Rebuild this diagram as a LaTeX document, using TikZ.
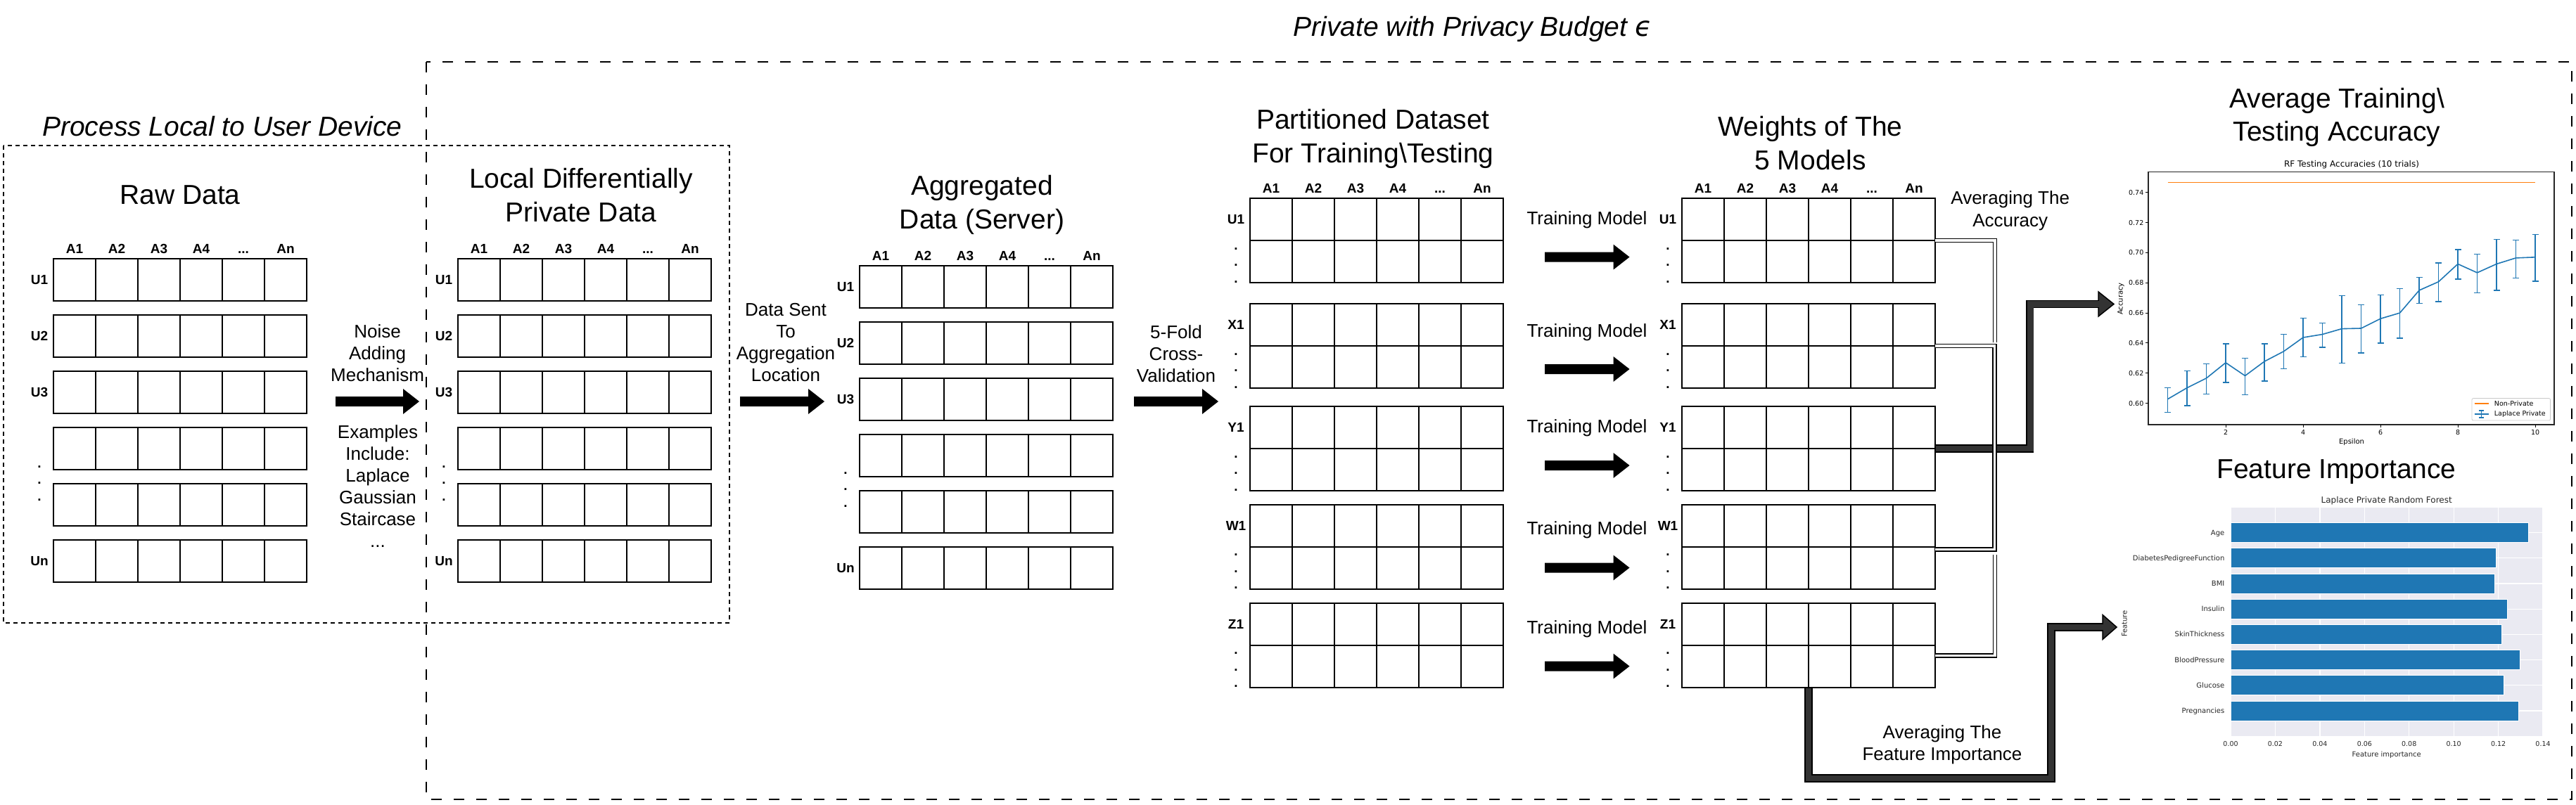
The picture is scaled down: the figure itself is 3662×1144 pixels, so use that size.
\documentclass[tikz,border=0pt]{standalone}
\usepackage{fontspec}
\setmainfont{Liberation Sans}
\newfontfamily\plotfont{DejaVu Sans}
\usetikzlibrary{calc}

\definecolor{mplblue}{HTML}{1F77B4}
\definecolor{mplorange}{HTML}{FF7F0E}
\definecolor{sbback}{HTML}{EAEAF2}
\definecolor{flexgray}{HTML}{333333}
\definecolor{axisgray}{HTML}{262626}

\tikzset{
  cellbox/.style={draw, line width=2pt, inner sep=0pt, outer sep=0pt, minimum width=360pt, anchor=north west},
  gridline/.style={line width=2pt},
  collabel/.style={font=\bfseries\fontsize{19}{23.5}\selectfont, anchor=base, inner sep=0pt},
  heading/.style={font=\fontsize{39}{47.7}\selectfont, align=center, anchor=north, inner sep=0pt},
  caption/.style={font=\fontsize{26}{31}\selectfont, align=center, anchor=north, inner sep=0pt},
  trainlabel/.style={font=\fontsize{26}{31}\selectfont, anchor=base, inner sep=0pt},
  regiontitle/.style={font=\itshape\fontsize{39}{47.7}\selectfont, anchor=base, inner sep=0pt},
  flexline/.style={line width=11.5pt, line join=miter},
  flexinner/.style={line width=8.5pt, line join=miter, flexgray},
  flexhead/.style={fill=flexgray, draw=black, line width=1.5pt, line join=miter},
  busline/.style={double=white, double distance=3.6pt, line width=1.6pt, line join=miter},
  ticklabel/.style={font=\plotfont\fontsize{9.5}{11}\selectfont, inner sep=0pt},
  axislabel/.style={font=\plotfont\fontsize{10}{12}\selectfont, inner sep=0pt},
  plottitle/.style={font=\plotfont\fontsize{12}{14}\selectfont, inner sep=0pt, anchor=base},
  errbar/.style={mplblue, line width=1.3pt},
}

% one block of cells: name, left, top, number of rows
\newcommand{\cellrow}[4]{%
  \node[cellbox, minimum height=#4*60pt] (#1) at (#2,{#3}) {};
  \foreach \col in {1,...,5}
    \draw[gridline] ($(#1.north west)!\col/6!(#1.north east)$) -- ($(#1.south west)!\col/6!(#1.south east)$);
  \ifnum#4>1 \draw[gridline] (#1.west) -- (#1.east);\fi}
\newcommand{\etc}{...}
\newcommand{\collabels}[1]{%
  \foreach \t [count=\i, evaluate=\i as \f using (\i-0.5)/6] in {A1,A2,A3,A4,\etc,An}
    \node[collabel] (#1-col\i) at ($(#1.north west)!\f!(#1.north east)+(0,-7.5)$) {\t};}
\newcommand{\stackdots}[2]{%
  \foreach \d in {0,1,2}
    \node[collabel] (#1-dot\d) at ($(#1.north west)+(-20,#2+23.5*\d+1.3)$) {.};}
\newcommand{\blockarrow}[2]{%
  \fill ($(#1)+(0,-7)$) -- ($(#2)+(-23,-7)$) -- ($(#2)+(-23,-18)$) -- (#2)
    -- ($(#2)+(-23,18)$) -- ($(#2)+(-23,7)$) -- ($(#1)+(0,7)$) -- cycle;}

\begin{document}
\begin{tikzpicture}[x=1pt,y=-1pt]
\useasboundingbox (0,0) rectangle (3662,1144);

% the two regions
\draw[line width=1.5pt, dash pattern=on 6pt off 5pt] (5,207) rectangle (1037,886);
\draw[line width=2pt, dash pattern=on 15pt off 17pt] (606,88) rectangle (3656,1137);
\node[regiontitle] (localtitle) at (316,193) {Process Local to User Device};
\node[regiontitle] (privtitle) at (2093.5,51.7) {Private with Privacy Budget {\plotfont ϵ}};

% raw data
\node[heading] (rawtitle) at (256,263.9) {Raw Data};
\foreach \r in {1,...,6} {\cellrow{raw\r}{76}{367.5+80*(\r-1)}{1}}
\collabels{raw1}
\foreach \r/\t in {1/U1,2/U2,3/U3,6/Un}
  \node[collabel] (raw\r-lab) at ($(raw\r.west)+(-20,6.8)$) {\t};
\stackdots{raw4}{56.5}

\node[caption] (noise) at (536.6,461.6) {Noise\\Adding\\Mechanism};
\node[caption] (examples) at (537,604.6) {Examples\\Include:\\Laplace\\Gaussian\\Staircase\\...};
\coordinate (noise-s) at (477,571);
\coordinate (noise-e) at (596,571);
\blockarrow{noise-s}{noise-e}

% local differentially private data
\node[heading] (ldptitle) at (826,238.9) {Local Differentially\\Private Data};
\foreach \r in {1,...,6} {\cellrow{ldp\r}{651}{367.5+80*(\r-1)}{1}}
\collabels{ldp1}
\foreach \r/\t in {1/U1,2/U2,3/U3,6/Un}
  \node[collabel] (ldp\r-lab) at ($(ldp\r.west)+(-20,6.8)$) {\t};
\stackdots{ldp4}{56.5}

\node[caption] (sent) at (1117,431.6) {Data Sent\\To\\Aggregation\\Location};
\coordinate (sent-s) at (1052,571);
\coordinate (sent-e) at (1172,571);
\blockarrow{sent-s}{sent-e}

% aggregated data
\node[heading] (aggtitle) at (1396,249.3) {Aggregated\\Data (Server)};
\foreach \r in {1,...,6} {\cellrow{agg\r}{1222}{377.5+80*(\r-1)}{1}}
\collabels{agg1}
\foreach \r/\t in {1/U1,2/U2,3/U3,6/Un}
  \node[collabel] (agg\r-lab) at ($(agg\r.west)+(-20,6.8)$) {\t};
\stackdots{agg4}{55.5}

\node[caption] (fold) at (1672,462.1) {5-Fold\\Cross-\\Validation};
\coordinate (fold-s) at (1612,571);
\coordinate (fold-e) at (1732,571);
\blockarrow{fold-s}{fold-e}

% partitioned dataset and weights
\node[heading] (parttitle) at (1952,155.5) {Partitioned Dataset\\For Training\textbackslash Testing};
\node[heading] (wgttitle) at (2573.6,164.9) {Weights of The\\5 Models};
\foreach \g/\y/\t in {1/282/U1,2/432/X1,3/578/Y1,4/717.5/W1,5/857.5/Z1} {
  \cellrow{part\g}{1777}{\y}{2}
  \node[collabel] (part\g-lab) at ($(part\g.north west)+(-20,36.8)$) {\t};
  \stackdots{part\g}{72}
  \cellrow{wgt\g}{2391}{\y}{2}
  \node[collabel] (wgt\g-lab) at ($(wgt\g.north west)+(-20,36.8)$) {\t};
  \stackdots{wgt\g}{72}
}
\collabels{part1}
\collabels{wgt1}

\foreach \g/\b/\a in {1/319.7/365.6,2/479.3/525,3/615.8/662,4/760.3/807.5,5/901.1/947.6} {
  \node[trainlabel] (train\g) at (2256,\b) {Training Model};
  \coordinate (train\g-s) at (2196,\a);
  \coordinate (train\g-e) at (2316.5,\a);
  \blockarrow{train\g-s}{train\g-e}
}

% averaging
\node[caption, font=\fontsize{26}{32}\selectfont] (avgacc) at (2857.7,271.6) {Averaging The\\Accuracy};
\node[caption] (avgfeat) at (2761,1031.4) {Averaging The\\Feature Importance};

\coordinate (acctip-b) at (2983,432.5);
\coordinate (acctip) at (3005,432.5);
\draw[flexline] (wgt3.east) -- ++(134.5,0) |- (acctip-b);
\fill[flexhead] ($(acctip-b)+(0,-17.5)$) -- (acctip) -- ($(acctip-b)+(0,17.5)$) -- cycle;
\draw[flexinner] ($(wgt3.east)+(1,0)$) -- ++(134.5,0) |- ($(acctip-b)+(3,0)$);

\coordinate (fibend) at (2916,1107);
\coordinate (fitip-b) at (2989,892);
\coordinate (fitip) at (3009,892);
\draw[flexline] (wgt5.south) |- (fibend) |- (fitip-b);
\fill[flexhead] ($(fitip-b)+(0,-17.5)$) -- (fitip) -- ($(fitip-b)+(0,17.5)$) -- cycle;
\draw[flexinner] ($(wgt5.south)+(0,1)$) |- (fibend) |- ($(fitip-b)+(3,0)$);

\coordinate (bus1-end) at (2836,486.5);
\coordinate (bus3-start) at (2836,789);
\draw[busline] (wgt1.east) -| (bus1-end);
\draw[busline] (wgt2.east) -| ($(wgt4.east)+(84.5,4)$) -- ($(wgt4.east)+(0,4)$);
\draw[busline] (bus3-start) |- ($(wgt5.east)+(0,15)$);

% average training / testing accuracy
\node[heading] (acctitle) at (3322,124.7) {Average Training\textbackslash\\Testing Accuracy};
\node[plottitle] (accplot) at (3343,237.4) {RF Testing Accuracies (10 trials)};
\draw[line width=1.2pt, black!85] (3054,244.6) rectangle (3631,604);
\foreach \t [count=\k from 0] in {0.60,0.62,0.64,0.66,0.68,0.70,0.72,0.74} {
  \draw[line width=1pt] (3054,573.7-42.86*\k) -- ++(-4,0);
  \node[ticklabel, anchor=east] (acc-y\k) at (3047.5,573.7-42.86*\k) {\t};
}
\foreach \t [count=\k from 0] in {2,4,6,8,10} {
  \draw[line width=1pt] (3164+110*\k,604) -- ++(0,4);
  \node[ticklabel] (acc-x\k) at (3164+110*\k,615) {\t};
}
\node[axislabel, anchor=base] (acc-xlab) at (3343,631.6) {Epsilon};
\node[axislabel, rotate=90] (acc-ylab) at (3015,425) {Accuracy};
\begin{scope}[shift={(3054,1859.5)}, x=55pt, y=2143pt]
  \draw[mplorange, line width=1.8pt] (0.5,0.7466) -- (10,0.7466);
  \foreach \e/\m/\l/\h in {0.5/0.6028/0.594/0.6103, 1.0/0.6103/0.5985/0.6217,
      1.5/0.6167/0.6063/0.6263, 2.0/0.627/0.6138/0.6395, 2.5/0.6183/0.6058/0.630,
      3.0/0.6278/0.6148/0.6395, 3.5/0.6345/0.6228/0.6458, 4.0/0.6437/0.6308/0.6567,
      4.5/0.6458/0.6372/0.6533, 5.0/0.6495/0.6268/0.6715, 5.5/0.6498/0.6335/0.6655,
      6.0/0.6562/0.64/0.672, 6.5/0.66/0.6432/0.6762, 7.0/0.675/0.6662/0.6837,
      7.5/0.6807/0.6675/0.6932, 8.0/0.6925/0.6825/0.702, 8.5/0.6867/0.6735/0.699,
      9.0/0.6925/0.675/0.7088, 9.5/0.6965/0.6833/0.7083, 10.0/0.697/0.681/0.7122} {
    \draw[errbar] (\e,\l) -- (\e,\h);
    \draw[errbar] ([xshift=-4.5pt]\e,\l) -- ([xshift=4.5pt]\e,\l);
    \draw[errbar] ([xshift=-4.5pt]\e,\h) -- ([xshift=4.5pt]\e,\h);
  }
  \draw[mplblue, line width=1.6pt, line join=round] (0.5,0.6028)
    foreach \e/\m in {1.0/0.6103, 1.5/0.6167, 2.0/0.627, 2.5/0.6183, 3.0/0.6278,
      3.5/0.6345, 4.0/0.6437, 4.5/0.6458, 5.0/0.6495, 5.5/0.6498, 6.0/0.6562,
      6.5/0.66, 7.0/0.675, 7.5/0.6807, 8.0/0.6925, 8.5/0.6867, 9.0/0.6925,
      9.5/0.6965, 10.0/0.697} {-- (\e,\m)};
\end{scope}
\draw[rounded corners=2pt, draw=black!20, fill=white, line width=0.8pt] (3514,566.6) rectangle (3625.6,598);
\draw[mplorange, line width=1.8pt] (3517.5,574) -- (3538,574);
\draw[errbar] (3517.5,589) -- (3538,589);
\draw[errbar] (3527.7,584) -- (3527.7,594);
\draw[errbar] (3524,584) -- (3531.4,584);
\draw[errbar] (3524,594) -- (3531.4,594);
\node[ticklabel, anchor=west] (leg-np) at (3545.7,574) {Non-Private};
\node[ticklabel, anchor=west] (leg-lp) at (3545.7,589) {Laplace Private};

% feature importance
\node[heading] (feattitle) at (3321.5,653.7) {Feature Importance};
\node[plottitle, text=axisgray] (featplot) at (3392.7,715.4) {Laplace Private Random Forest};
\fill[sbback] (3171,722) rectangle (3615,1047);
\foreach \k in {0,...,7}
  \draw[white, line width=1.2pt] (3171+63.43*\k,722) -- ++(0,325);
\foreach \k in {0,...,7}
  \draw[white, line width=1.2pt] (3171,757.5+36.2*\k) -- (3615,757.5+36.2*\k);
\foreach \lab/\r [count=\k from 0] in {Age/3594.7, DiabetesPedigreeFunction/3548, BMI/3546,
    Insulin/3564, SkinThickness/3556, BloodPressure/3582, Glucose/3559.7, Pregnancies/3580} {
  \fill[mplblue, draw=white, line width=0.8pt] (3171,743.5+36.2*\k) rectangle (\r,771.5+36.2*\k);
  \node[axislabel, text=axisgray, anchor=base east] (feat-y\k) at (3162.5,761.1+36.2*\k) {\lab};
}
\foreach \t [count=\k from 0] in {0.00,0.02,0.04,0.06,0.08,0.10,0.12,0.14}
  \node[ticklabel, text=axisgray] (feat-x\k) at (3171+63.43*\k,1058.5) {\t};
\node[axislabel, text=axisgray, anchor=base] (feat-xlab) at (3392.7,1076.6) {Feature importance};
\node[axislabel, text=axisgray, rotate=90] (feat-ylab) at (3020,887) {Feature};
\end{tikzpicture}
\end{document}
